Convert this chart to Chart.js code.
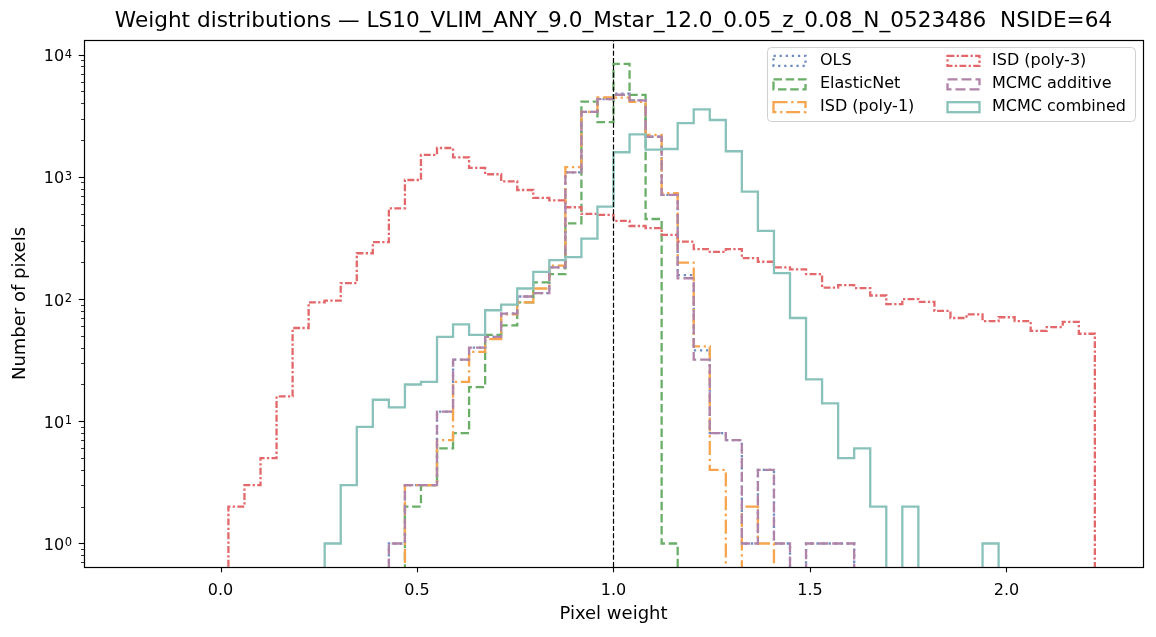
<!DOCTYPE html>
<html>
<head>
<meta charset="utf-8">
<script src="https://cdn.jsdelivr.net/npm/chart.js@4.4.0/dist/chart.umd.min.js"></script>
<style>
  html, body { margin: 0; padding: 0; background: #fff; }
  #wrap { width: 1156px; height: 637px; }
</style>
</head>
<body>
<div id="wrap"><canvas id="weightChart" width="1156" height="637"></canvas></div>
<script>
const titleText = 'Weight distributions — LS10_VLIM_ANY_9.0_Mstar_12.0_0.05_z_0.08_N_0523486  NSIDE=64';
const xLabel = 'Pixel weight';
const yLabel = 'Number of pixels';

// 60 equal bins shared by every method
const binLo = -0.225;
const binHi = 2.225;
const nBins = 60;

const xTicks = [0.0, 0.5, 1.0, 1.5, 2.0];
const yTicks = [1, 10, 100, 1000, 10000];
const refWeight = 1.0;

// counts per bin, 0 = empty
const olsCounts = [
  0, 0, 0, 0, 0, 0, 0, 0, 0, 0, 0, 0, 0, 0, 0, 0,
  1, 3, 3, 12, 32, 40, 49, 76, 105, 112, 182, 1090, 3400, 4320, 4800, 4220, 2130, 711, 157, 38, 8, 7, 1, 4, 1, 0, 1, 1, 1,
  0, 0, 0, 0, 0, 0, 0, 0, 0, 0, 0, 0, 0, 0, 0
];
const elasticCounts = [
  0, 0, 0, 0, 0, 0, 0, 0, 0, 0, 0, 0, 0, 0, 0, 0, 0,
  2, 3, 6, 8, 19, 51, 61, 94, 137, 160, 417, 4125, 2800, 8400, 4680, 452, 1,
  0, 0, 0, 0, 0, 0, 0, 0, 0, 0, 0, 0, 0, 0, 0, 0, 0, 0, 0, 0, 0, 0, 0, 0, 0, 0
];
const isd1Counts = [
  0, 0, 0, 0, 0, 0, 0, 0, 0, 0, 0, 0, 0, 0, 0, 0, 0,
  3, 3, 7, 21, 37, 47, 75, 94, 122, 188, 1200, 3400, 4460, 4450, 4100, 2200, 734, 199, 41, 4, 0, 2, 1,
  0, 0, 0, 0, 0, 0, 0, 0, 0, 0, 0, 0, 0, 0, 0, 0, 0, 0, 0, 0
];
const isd3Counts = [
  0, 0, 0, 0, 0, 0,
  2, 3, 5, 16, 58, 94, 97, 135, 237, 292, 553, 943, 1511, 1723, 1446, 1183, 1050, 920, 781, 672,
  643, 564, 497, 488, 436, 396, 380, 335, 295, 256, 243, 256, 216, 202, 182, 175, 160, 124, 130, 123,
  107, 91, 100, 95, 80, 70, 75, 66, 71, 66, 55, 59, 65, 52
];
const mcmcAddCounts = [
  0, 0, 0, 0, 0, 0, 0, 0, 0, 0, 0, 0, 0, 0, 0, 0,
  1, 3, 3, 12, 32, 40, 49, 76, 105, 112, 182, 1090, 3400, 4320, 4700, 4220, 2130, 711, 148, 32, 8, 7, 1, 4, 1, 0, 1, 1, 1,
  0, 0, 0, 0, 0, 0, 0, 0, 0, 0, 0, 0, 0, 0, 0
];
const mcmcCombCounts = [
  0, 0, 0, 0, 0, 0, 0, 0, 0, 0, 0, 0,
  1, 3, 9, 15, 13, 20, 21, 49, 62, 51, 81, 90, 122, 167, 208, 220, 312, 570, 1590, 2230, 1670, 1690,
  2750, 3570, 2920, 1620, 757, 361, 163, 70, 22, 14, 5, 6, 2, 0, 2, 0, 0, 0, 0, 1,
  0, 0, 0, 0, 0, 0
];

const seriesLabels = ['OLS', 'ElasticNet', 'ISD (poly-1)', 'ISD (poly-3)', 'MCMC additive', 'MCMC combined'];
const seriesCounts = [olsCounts, elasticCounts, isd1Counts, isd3Counts, mcmcAddCounts, mcmcCombCounts];
const seriesColors = ['#6f8cc0', '#6aae68', '#f6a44d', '#e3686b', '#b083a8', '#88c2ba'];
const seriesDashes = [[2.3, 3.8], [8.5, 3.7], [14, 3.7, 2.3, 3.7], [6.9, 2.3, 2.3, 2.3], [10, 4], []];

const xMin = -0.3475, xMax = 2.3475;
const yMin = 0.642, yMax = 13180;
const FLOOR = 0.01;
const FONT = "'DejaVu Sans', sans-serif";
const LW = 2.3;

const edges = Array.from({ length: nBins + 1 }, (_, i) => binLo + (binHi - binLo) * i / nBins);

// outline of a step histogram, empty bins drop below the axis
function stepPoints(counts) {
    const pts = [{ x: edges[0], y: FLOOR }];
    counts.forEach((c, i) => pts.push({ x: edges[i], y: c > 0 ? c : FLOOR }));
    pts.push({ x: edges[nBins], y: FLOOR });
    return pts;
}

const datasets = seriesLabels.map((label, i) => ({
    label: label,
    data: stepPoints(seriesCounts[i]),
    borderColor: seriesColors[i],
    borderDash: seriesDashes[i],
    borderWidth: LW,
    stepped: true,
    fill: false,
    pointRadius: 0,
    order: 10 - i
}));
datasets.push({
    label: 'ref',
    data: [{ x: refWeight, y: yMin }, { x: refWeight, y: yMax }],
    borderColor: '#000',
    borderDash: [5, 2.2],
    borderWidth: 1.2,
    pointRadius: 0,
    order: 0
});

const decorations = {
    id: 'decorations',
    afterDatasetsDraw(chart) {
        const ctx = chart.ctx;
        const a = chart.chartArea;
        const xs = chart.scales.x, ys = chart.scales.y;
        ctx.save();
        ctx.strokeStyle = '#000';
        ctx.setLineDash([]);
        // ticks
        ctx.lineWidth = 1.1;
        xTicks.forEach(v => {
            const px = Math.round(xs.getPixelForValue(v)) + 0.5;
            ctx.beginPath(); ctx.moveTo(px, a.bottom); ctx.lineTo(px, a.bottom + 5.3); ctx.stroke();
        });
        yTicks.forEach(v => {
            const py = Math.round(ys.getPixelForValue(v)) + 0.5;
            ctx.beginPath(); ctx.moveTo(a.left, py); ctx.lineTo(a.left - 5.3, py); ctx.stroke();
        });
        ctx.lineWidth = 0.8;
        for (let k = -1; k <= 4; k++) {
            for (let m = 2; m <= 9; m++) {
                const v = m * Math.pow(10, k);
                if (v < yMin || v > yMax) continue;
                const py = Math.round(ys.getPixelForValue(v)) + 0.5;
                ctx.beginPath(); ctx.moveTo(a.left, py); ctx.lineTo(a.left - 3, py); ctx.stroke();
            }
        }
        // frame
        ctx.lineWidth = 1.2;
        ctx.strokeRect(a.left + 0.5, a.top + 0.5, a.right - a.left, a.bottom - a.top);
        ctx.restore();
    },
    afterDraw(chart) {
        const ctx = chart.ctx;
        const a = chart.chartArea;
        const ys = chart.scales.y;
        const cx = (a.left + a.right) / 2;
        ctx.save();
        ctx.fillStyle = '#000';

        // y tick labels as 10 with a raised exponent
        ctx.textAlign = 'left';
        ctx.textBaseline = 'alphabetic';
        const labelRight = a.left - 12;
        yTicks.forEach(v => {
            const py = ys.getPixelForValue(v);
            const expText = String(Math.round(Math.log10(v)));
            ctx.font = '11.5px ' + FONT;
            const ew = ctx.measureText(expText).width;
            ctx.fillText(expText, labelRight - ew, py + 3);
            ctx.font = '16px ' + FONT;
            const bw = ctx.measureText('10').width;
            ctx.fillText('10', labelRight - ew - bw - 0.5, py + 6.6);
        });

        ctx.textAlign = 'center';
        ctx.textBaseline = 'middle';
        ctx.font = '21.6px ' + FONT;
        ctx.fillText(titleText, cx, 21);
        ctx.font = '18px ' + FONT;
        ctx.fillText(xLabel, cx, 614);
        ctx.save();
        ctx.translate(20, (a.top + a.bottom) / 2);
        ctx.rotate(-Math.PI / 2);
        ctx.fillText(yLabel, 0, 0);
        ctx.restore();

        // legend, two columns
        ctx.beginPath();
        ctx.roundRect(767.5, 47.5, 368, 74, 4);
        ctx.fillStyle = 'rgba(255,255,255,0.8)';
        ctx.fill();
        ctx.strokeStyle = '#d0d0d0';
        ctx.lineWidth = 1;
        ctx.stroke();
        ctx.font = '16px ' + FONT;
        ctx.textAlign = 'left';
        const rowY = [60.8, 84.3, 107.2];
        const handleX = [773.5, 947.5];
        const textX = [820, 992];
        seriesLabels.forEach((label, i) => {
            const col = Math.floor(i / 3), row = i % 3;
            ctx.strokeStyle = seriesColors[i];
            ctx.lineWidth = LW;
            ctx.setLineDash(seriesDashes[i]);
            ctx.strokeRect(handleX[col], rowY[row] - 5, 32, 10);
            ctx.setLineDash([]);
            ctx.fillStyle = '#000';
            ctx.fillText(label, textX[col], rowY[row]);
        });
        ctx.restore();
    }
};

new Chart(document.getElementById('weightChart').getContext('2d'), {
    type: 'line',
    data: { datasets: datasets },
    options: {
        responsive: false,
        animation: false,
        events: [],
        layout: { padding: { top: 40, right: 13, left: 0, bottom: 0 } },
        plugins: { legend: { display: false }, tooltip: { enabled: false }, title: { display: false } },
        scales: {
            x: {
                type: 'linear',
                min: xMin,
                max: xMax,
                grid: { display: false, drawTicks: false },
                border: { display: false },
                afterBuildTicks: s => { s.ticks = xTicks.map(v => ({ value: v })); },
                afterFit: s => { s.height = 70; },
                ticks: {
                    callback: v => Number(v).toFixed(1),
                    color: '#000',
                    font: { family: FONT, size: 16 },
                    padding: 14,
                    maxRotation: 0,
                    autoSkip: false
                }
            },
            y: {
                type: 'logarithmic',
                min: yMin,
                max: yMax,
                bounds: 'data',
                grid: { display: false, drawTicks: false },
                border: { display: false },
                afterBuildTicks: s => { s.ticks = yTicks.map(v => ({ value: v })); },
                afterFit: s => { s.width = 84; },
                ticks: { display: false }
            }
        }
    },
    plugins: [decorations]
});
</script>
</body>
</html>
